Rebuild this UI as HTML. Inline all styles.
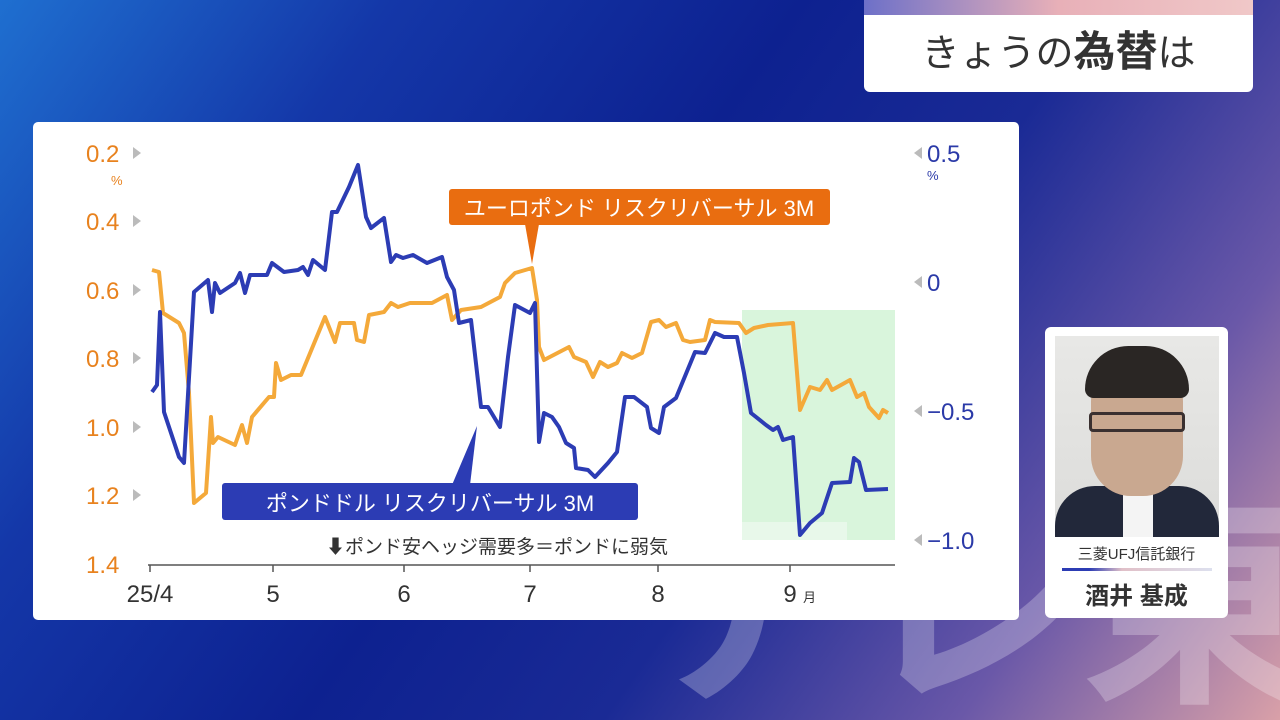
<!DOCTYPE html>
<html><head><meta charset="utf-8"><style>
html,body{margin:0;width:1280px;height:720px;overflow:hidden;font-family:"Liberation Sans","Noto Sans CJK JP",sans-serif;background:#0d2190;}
.bg{position:absolute;left:0;top:0;width:1280px;height:720px;overflow:hidden;background:linear-gradient(125deg,#1f6fd0 0%,#1437a8 22%,#0d2190 45%,#1a2a95 62%,#6a58a8 82%,#d9a0a8 100%);}
</style></head><body>
<div class="bg"><div style="position:absolute;left:630px;top:490px;font-size:230px;font-weight:bold;color:rgba(255,255,255,0.25);letter-spacing:-5px;line-height:1;white-space:nowrap">テレ東</div></div>
<!-- title -->
<div style="position:absolute;left:864px;top:0;width:389px;height:92px;background:#fff;border-radius:0 0 6px 6px;"></div>
<div style="position:absolute;left:864px;top:0;width:389px;height:15px;background:linear-gradient(90deg,#6d70c8,#e8b0b8,#f0c8c8);"></div>
<div style="position:absolute;left:864px;top:28px;width:389px;text-align:center;font-size:38px;color:#333;line-height:48px">きょうの<b style="font-size:42px">為替</b>は</div>
<!-- chart card -->
<div style="position:absolute;left:33px;top:122px;width:986px;height:498px;background:#fff;border-radius:5px;"></div>
<svg style="position:absolute;left:0;top:0" width="1280" height="720" font-family="Liberation Sans, Noto Sans CJK JP, sans-serif">
<rect x="742" y="310" width="153" height="230" fill="#d9f5dc"/>
<rect x="742" y="522" width="105" height="18" fill="#e8f8ea"/>
<g font-size="24" fill="#e8821e">
<text x="86" y="162">0.2</text><text x="86" y="230">0.4</text><text x="86" y="299">0.6</text><text x="86" y="367">0.8</text><text x="86" y="436">1.0</text><text x="86" y="504">1.2</text><text x="86" y="573">1.4</text>
</g>
<text x="111" y="185" font-size="13" fill="#e8821e">%</text>
<g fill="#bbb"><polygon points="133,147 133,159 141,153"/><polygon points="133,215 133,227 141,221"/><polygon points="133,284 133,296 141,290"/><polygon points="133,352 133,364 141,358"/><polygon points="133,421 133,433 141,427"/><polygon points="133,489 133,501 141,495"/>
<polygon points="922,147 922,159 914,153"/><polygon points="922,276 922,288 914,282"/><polygon points="922,405 922,417 914,411"/><polygon points="922,534 922,546 914,540"/></g>
<g font-size="24" fill="#2b3aa8">
<text x="927" y="162">0.5</text><text x="927" y="291">0</text><text x="927" y="420">−0.5</text><text x="927" y="549">−1.0</text>
</g>
<text x="927" y="180" font-size="13" fill="#2b3aa8">%</text>
<line x1="148" y1="565" x2="895" y2="565" stroke="#555" stroke-width="1.5"/>
<g stroke="#555" stroke-width="1.5"><line x1="150" y1="565" x2="150" y2="572"/><line x1="273" y1="565" x2="273" y2="572"/><line x1="404" y1="565" x2="404" y2="572"/><line x1="530" y1="565" x2="530" y2="572"/><line x1="658" y1="565" x2="658" y2="572"/><line x1="790" y1="565" x2="790" y2="572"/></g>
<g font-size="24" fill="#333" text-anchor="middle"><text x="150" y="602">25/4</text><text x="273" y="602">5</text><text x="404" y="602">6</text><text x="530" y="602">7</text><text x="658" y="602">8</text><text x="790" y="602">9</text></g>
<text x="803" y="602" font-size="13" fill="#333">月</text>
<text x="497" y="553" font-size="19" fill="#333" text-anchor="middle">⬇ポンド安ヘッジ需要多＝ポンドに弱気</text>
<polyline fill="none" stroke="#f4a93a" stroke-width="4" stroke-linejoin="round" points="152,270 159,272 163,313 179,323 184,333 189,393 194,503 206,493 211,417 213,443 218,437 235,445 242,425 247,443 252,417 269,397 274,397 276,363 281,380 291,375 301,375 325,317 335,342 340,323 354,323 357,340 364,342 369,315 384,312 391,303 398,307 410,303 432,303 447,295 452,320 461,310 481,307 500,297 505,283 515,273 532,268 537,300 539,347 544,360 569,347 574,357 586,362 593,377 600,362 608,367 617,363 622,353 632,358 642,353 651,322 659,320 666,327 676,323 683,340 690,342 705,340 710,320 715,322 739,323 746,333 754,328 768,325 793,323 800,410 810,387 820,390 827,380 832,390 850,380 857,397 864,393 869,407 879,418 883,410 888,413"/>
<polyline fill="none" stroke="#2c3cb4" stroke-width="4" stroke-linejoin="round" points="152,392 157,385 160,312 164,412 179,457 184,463 194,292 208,280 212,312 215,283 220,293 235,283 240,273 245,293 250,275 267,275 272,263 284,272 298,270 303,267 308,275 313,260 325,270 332,212 337,212 349,187 358,165 366,217 371,228 384,218 391,262 396,255 403,258 413,255 427,263 442,257 447,277 454,290 459,323 471,320 481,407 488,407 500,427 508,357 515,305 530,313 535,303 539,442 544,413 552,417 559,427 566,443 574,448 576,468 588,470 595,477 608,463 617,452 625,397 634,397 647,407 651,428 659,433 664,407 676,398 695,352 705,353 715,333 724,337 737,337 744,373 751,413 766,425 773,430 778,427 783,440 793,437 800,535 810,523 822,513 832,483 850,482 854,458 859,462 866,490 888,489"/>
<rect x="449" y="189" width="381" height="36" rx="3" fill="#e96d10"/>
<polygon points="525,224 539,224 532,264" fill="#e96d10"/>
<text x="639" y="216" font-size="22" fill="#fff" text-anchor="middle">ユーロポンド リスクリバーサル 3M</text>
<polygon points="452,485 470,485 477,426" fill="#2c3cb4"/>
<rect x="222" y="483" width="416" height="37" rx="3" fill="#2c3cb4"/>
<text x="430" y="511" font-size="22" fill="#fff" text-anchor="middle">ポンドドル リスクリバーサル 3M</text>
</svg>
<!-- person card -->
<div style="position:absolute;left:1045px;top:327px;width:183px;height:291px;background:#fff;border-radius:6px;"></div>
<div style="position:absolute;left:1055px;top:336px;width:164px;height:201px;background:linear-gradient(#e8e8e6,#dcdcda);overflow:hidden">
<div style="position:absolute;left:0;top:150px;width:164px;height:60px;background:#22283a;border-radius:40px 40px 0 0"></div>
<div style="position:absolute;left:68px;top:155px;width:30px;height:50px;background:#f4f4f4"></div>
<div style="position:absolute;left:36px;top:20px;width:92px;height:140px;background:#c9a890;border-radius:45px 45px 40px 40px"></div>
<div style="position:absolute;left:30px;top:10px;width:104px;height:52px;background:#2a2624;border-radius:50px 50px 10px 10px"></div>
<div style="position:absolute;left:34px;top:76px;width:96px;height:20px;border:3px solid #3a3030;border-radius:4px;box-sizing:border-box"></div>
</div>
<div style="position:absolute;left:1045px;top:543px;width:183px;text-align:center;font-size:15px;color:#333">三菱UFJ信託銀行</div>
<div style="position:absolute;left:1062px;top:568px;width:150px;height:3px;background:linear-gradient(90deg,#2c3cb4 0 18%,#e0c0c8 40%,#dde0ee)"></div>
<div style="position:absolute;left:1045px;top:576px;width:183px;text-align:center;font-size:24px;font-weight:bold;color:#333">酒井 基成</div>
</body></html>
